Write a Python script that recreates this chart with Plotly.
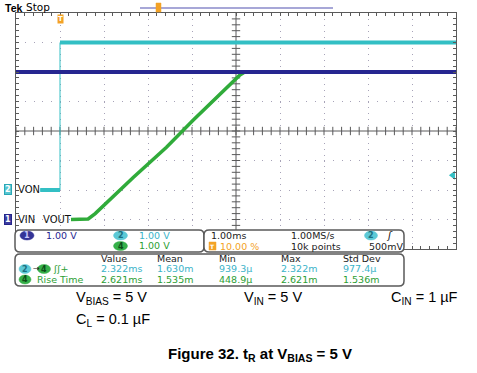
import numpy as np
import plotly.graph_objects as go

# ---------------- data (time in ms, volts) ----------------
vin_t = [-1.0, 9.0]
vin_v = [5.0, 5.0]

von_t = [-0.45, 0.0, 0.0, 9.0]
von_v = [0.0, 0.0, 5.0, 5.0]

vout_t = [0.25, 0.64, 0.80, 0.91, 1.67, 2.42, 3.03, 4.09, 4.20, 9.0]
vout_v = [0.0, 0.02, 0.20, 0.36, 1.43, 2.45, 3.37, 4.90, 5.0, 5.0]

# channel settings: volts/div and ground position (div)
ch1_scale, ch1_pos = 1.0, -3.0
ch2_scale, ch2_pos = 1.0, -2.0
ch4_scale, ch4_pos = 1.0, -3.0
trig_level = 0.5  # V on ch2

meas_headers = ["Value", "Mean", "Min", "Max", "Std Dev"]
meas_row1 = ["2.322ms", "1.630m", "939.3µ", "2.322m", "977.4µ"]
meas_row2 = ["2.621ms", "1.535m", "448.9µ", "2.621m", "1.536m"]

C1 = "#262690"
C2 = "#33bfc4"
C2T = "#3bb3c9"
C4 = "#30ab3a"
C4T = "#2c9e34"
ORANGE = "#f3a226"
GRID = "#a7a3b8"
FRAME = "#5a5a5a"

W, H = 477, 373
L, R, T, B = 16, 456, 13, 249


def px(x):
    return (x - L) / (R - L)


def py(y):
    return (B - y) / (B - T)


def to_div(v, scale, pos):
    return [vv / scale + pos for vv in v]


fig = go.Figure()

# graticule center ticks
tx = np.arange(-1, 9.001, 0.2)
ty = np.arange(-4, 4.001, 0.2)
fig.add_trace(go.Scatter(x=tx, y=[0] * len(tx), mode="markers",
                         marker=dict(symbol="line-ns", size=6, line=dict(width=1, color=FRAME)),
                         hoverinfo="skip", showlegend=False))
fig.add_trace(go.Scatter(x=[4] * len(ty), y=ty, mode="markers",
                         marker=dict(symbol="line-ew", size=6, line=dict(width=1, color=FRAME)),
                         hoverinfo="skip", showlegend=False))

# ch4 VOUT (green) underneath
fig.add_trace(go.Scatter(x=vout_t, y=to_div(vout_v, ch4_scale, ch4_pos), mode="lines",
                         line=dict(color=C4, width=3.5), showlegend=False))
# ch2 VON (cyan): thin full trace + thick levels
von_y = to_div(von_v, ch2_scale, ch2_pos)
fig.add_trace(go.Scatter(x=von_t, y=von_y, mode="lines",
                         line=dict(color=C2, width=1), showlegend=False))
fig.add_trace(go.Scatter(x=von_t[:2] + [None] + von_t[2:], y=von_y[:2] + [None] + von_y[2:],
                         mode="lines", line=dict(color=C2, width=4), showlegend=False))
# ch1 VIN (dark blue)
fig.add_trace(go.Scatter(x=vin_t, y=to_div(vin_v, ch1_scale, ch1_pos), mode="lines",
                         line=dict(color=C1, width=4), showlegend=False))
# trigger level arrow
fig.add_trace(go.Scatter(x=[8.93], y=[trig_level / ch2_scale + ch2_pos], mode="markers",
                         marker=dict(symbol="triangle-left", size=8, color=C2),
                         cliponaxis=False, showlegend=False))

shapes = []
# center cross lines
shapes.append(dict(type="line", xref="x", yref="y", x0=-1, x1=9, y0=0, y1=0,
                   line=dict(color=FRAME, width=1), layer="below"))
shapes.append(dict(type="line", xref="x", yref="y", x0=4, x1=4, y0=-4, y1=4,
                   line=dict(color=FRAME, width=1), layer="below"))


def rrect(x0, y0, x1, y1, r=4, fill="white", color=FRAME, width=1.5):
    pts = lambda x, y: f"{px(x):.5f},{py(y):.5f}"
    path = (f"M {pts(x0 + r, y0)} L {pts(x1 - r, y0)} Q {pts(x1, y0)} {pts(x1, y0 + r)} "
            f"L {pts(x1, y1 - r)} Q {pts(x1, y1)} {pts(x1 - r, y1)} "
            f"L {pts(x0 + r, y1)} Q {pts(x0, y1)} {pts(x0, y1 - r)} "
            f"L {pts(x0, y0 + r)} Q {pts(x0, y0)} {pts(x0 + r, y0)} Z")
    return dict(type="path", xref="paper", yref="paper", path=path,
                fillcolor=fill, line=dict(color=color, width=width))


# readout panels
shapes.append(rrect(15, 230, 204, 252, r=5))
shapes.append(rrect(204, 230, 404, 252, r=5))
shapes.append(rrect(15, 254, 404, 286, r=5))

annotations = []


def ann(x, y, text, color="black", size=9.5, bold=False, anchor="left", family="DejaVu Sans", **kw):
    if bold:
        text = f"<b>{text}</b>"
    annotations.append(dict(x=px(x), y=py(y), xref="paper", yref="paper", text=text,
                            showarrow=False, xanchor=anchor, yanchor="middle",
                            font=dict(family=family, size=size, color=color), **kw))


def pill(cx, cy, label, fill, tcolor, w=14, h=9):
    shapes.append(dict(type="circle", xref="paper", yref="paper",
                       x0=px(cx - w / 2), x1=px(cx + w / 2), y0=py(cy + h / 2), y1=py(cy - h / 2),
                       fillcolor=fill, line=dict(color=fill, width=0.5)))
    ann(cx, cy, label, color=tcolor, size=8, bold=True, anchor="center")


# top status
ann(3, 8, "Tek", color="black", size=10.5, bold=True, family="Liberation Sans")
ann(24, 7, "Stop", color="black", size=10.5, family="DejaVu Sans")
shapes.append(dict(type="line", xref="paper", yref="paper", x0=px(140), x1=px(333), y0=py(8), y1=py(8),
                   line=dict(color="#5050b0", width=1.2)))
shapes.append(dict(type="rect", xref="paper", yref="paper", x0=px(156), x1=px(161), y0=py(12), y1=py(3),
                   fillcolor=ORANGE, line=dict(color=ORANGE, width=0.5)))
# trigger position marker
ann(60, 19, "T", color="white", size=7, bold=True, anchor="center", bgcolor=ORANGE, borderpad=0)

# channel labels on left
ann(8, 189, "2", color="white", size=8, bold=True, anchor="center", bgcolor="#56c6d2",
    bordercolor="#2aa7b5", borderwidth=1, borderpad=0)
ann(16, 189, "VON", color="#111111", size=10)
ann(8, 219, "1", color="white", size=8, bold=True, anchor="center", bgcolor="#3c3ca0",
    bordercolor="#25258a", borderwidth=1, borderpad=0)
ann(16, 219, "VIN", color="#111111", size=10)
ann(41, 219, "VOUT", color="#111111", size=10)

# panel 1
pill(27, 235.5, "1", "#343497", "#c8c8ff")
ann(44, 235, "1.00 V", color=C1, size=9.5)
pill(120.5, 235.5, "2", "#5cc9d6", "#1a6f80")
ann(137, 235, "1.00 V", color=C2T, size=9.5)
pill(120.5, 246, "4", "#36b04a", "#0c4d18")
ann(137, 245.5, "1.00 V", color=C4T, size=9.5)

# panel 2
ann(209, 235, "1.00ms", color="#222222", size=9.5)
shapes.append(dict(type="rect", xref="paper", yref="paper", x0=px(209), x1=px(216), y0=py(250), y1=py(242),
                   fillcolor=ORANGE, line=dict(color=ORANGE, width=0.5)))
ann(212.5, 246, "T", color="white", size=6, bold=True, anchor="center")
ann(218, 246, "10.00 %", color=ORANGE, size=9.5)
ann(289, 235, "1.00MS/s", color="#222222", size=9.5)
ann(289, 246, "10k points", color="#222222", size=9.5)
pill(371, 235.5, "2", "#5cc9d6", "#1a6f80", w=13)
ann(384, 235, "<i>ʃ</i>", color="#111111", size=10)
ann(367, 246, "500mV", color="#222222", size=9.5)

# panel 3 (measurements)
cols = [99, 155, 217, 279, 341]
for cx, h in zip(cols, meas_headers):
    ann(cx, 258.5, h, color="#222222", size=9.5)
pill(25, 269, "2", "#5cc9d6", "#1a6f80", w=12)
ann(31, 268.5, "→", color="#222222", size=8)
pill(44, 269, "4", "#36b04a", "#0c4d18", w=13)
ann(51, 268.5, "ʃʃ+", color=C4T, size=9.5)
pill(25, 279.5, "4", "#36b04a", "#0c4d18", w=12)
ann(35, 279, "Rise Time", color=C4T, size=9.5)
for cx, v in zip(cols, meas_row1):
    ann(cx, 268.5, v, color=C2T, size=9.5)
for cx, v in zip(cols, meas_row2):
    ann(cx, 279, v, color=C4T, size=9.5)

# conditions text
AR = "Liberation Sans"
ann(74, 298, "V<sub>BIAS</sub> = 5 V", size=14.5, family=AR, color="black")
ann(242, 298, "V<sub>IN</sub> = 5 V", size=14.5, family=AR, color="black")
ann(389, 298, "C<sub>IN</sub> = 1 µF", size=14.5, family=AR, color="black")
ann(74, 320, "C<sub>L</sub> = 0.1 µF", size=14.5, family=AR, color="black")
ann(260, 354, "<b>Figure 32. t<sub>R</sub> at V<sub>BIAS</sub> = 5 V</b>", size=15, family=AR,
    color="black", anchor="center")

fig.update_layout(
    width=W, height=H,
    margin=dict(l=L, r=W - R, t=T, b=H - B, pad=0),
    paper_bgcolor="white", plot_bgcolor="white",
    shapes=shapes, annotations=annotations,
    showlegend=False,
    xaxis=dict(range=[-1, 9], dtick=1, tick0=0, showgrid=True, gridcolor=GRID, gridwidth=1,
               griddash="1px,4.9px", zeroline=False, showticklabels=False,
               showline=True, linecolor=FRAME, linewidth=1, mirror="ticks",
               ticks="inside", ticklen=3, tickcolor=FRAME,
               minor=dict(dtick=0.2, ticks="inside", ticklen=3, tickcolor=FRAME, showgrid=False),
               fixedrange=True),
    yaxis=dict(range=[-4, 4], dtick=1, tick0=0, showgrid=True, gridcolor=GRID, gridwidth=1,
               griddash="1px,7.8px", zeroline=False, showticklabels=False,
               showline=True, linecolor=FRAME, linewidth=1, mirror="ticks",
               ticks="inside", ticklen=3, tickcolor=FRAME,
               minor=dict(dtick=0.2, ticks="inside", ticklen=3, tickcolor=FRAME, showgrid=False),
               fixedrange=True),
)

fig.write_html("out.html", config={"displayModeBar": False},
               post_script="document.body.style.margin='0';document.body.style.overflow='hidden';")
